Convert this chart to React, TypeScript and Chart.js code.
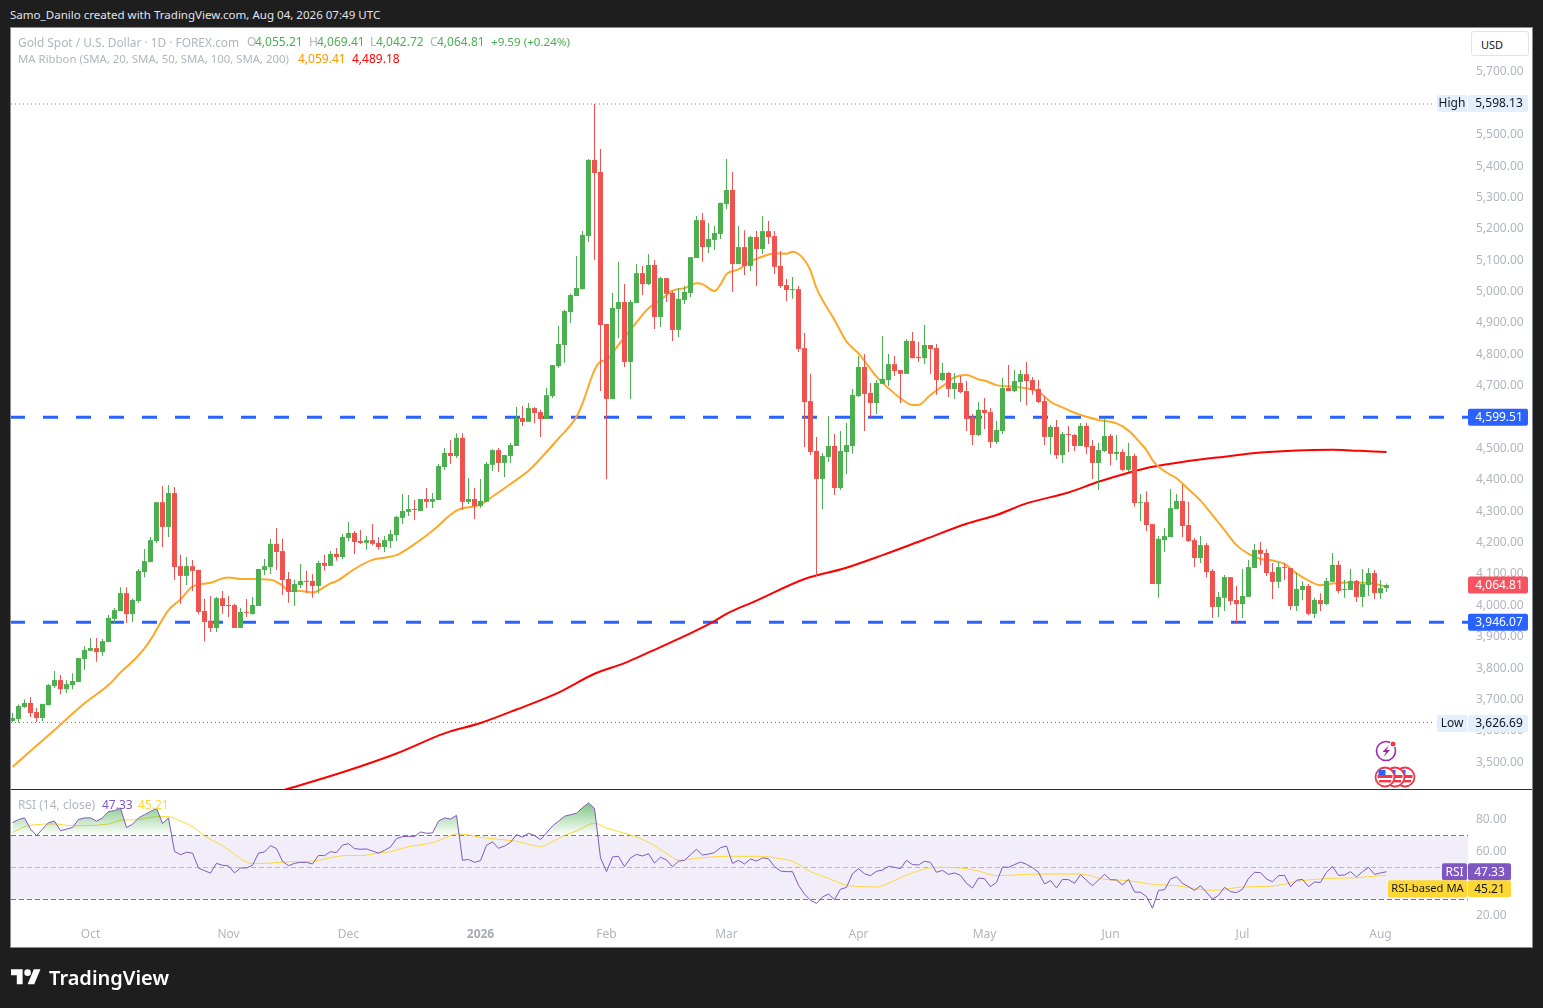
import React, { useEffect, useRef } from "react";
import { Chart, registerables } from "chart.js";

Chart.register(...registerables);

const FONT = '"Noto Sans", sans-serif';

const opens = [
3631,3638,3676,3689,3660,3641,3682,3743,3762,3733,
3746,3756,3829,3855,3864,3851,3883,3957,3982,4039,
3972,4014,4106,4138,4205,4329,4250,4358,4125,4094,
4125,4113,3982,3950,3928,4023,4001,4001,3928,3979,
3972,3998,4113,4122,4196,4173,4084,4043,4065,4078,
4078,4062,4135,4126,4164,4154,4215,4231,4205,4199,
4208,4199,4186,4205,4224,4279,4298,4307,4301,4339,
4330,4336,4441,4486,4476,4534,4330,4339,4317,4330,
4448,4495,4454,4476,4508,4597,4585,4629,4616,4594,
4667,4763,4830,4935,4986,5008,5177,5420,5381,4897,
4658,4945,4967,4776,4964,5059,5024,5085,4919,5043,
4996,4878,4973,4996,5107,5228,5142,5165,5184,5279,
5324,5088,5142,5082,5174,5136,5193,5177,5082,5021,
5005,5008,4820,4651,4492,4403,4473,4508,4374,4489,
4508,4667,4760,4677,4645,4706,4718,4769,4750,4738,
4843,4792,4788,4830,4820,4718,4741,4690,4709,4683,
4600,4543,4623,4616,4521,4556,4693,4683,4712,4737,
4718,4690,4651,4537,4569,4479,4546,4543,4508,4572,
4508,4454,4492,4540,4483,4489,4432,4476,4326,4329,
4259,4068,4208,4218,4307,4333,4256,4208,4151,4192,
4110,3995,4024,4090,4017,4004,4027,4119,4177,4167,
4106,4075,4122,4119,3998,4049,4062,3973,4017,4004,
4075,4129,4049,4049,4078,4027,4065,4103,4039,4055.21,
];
const closes = [
3641,3679,3689,3657,3641,3686,3746,3762,3733,3749,
3759,3832,3858,3864,3851,3886,3960,3985,4039,3972,
4017,4110,4141,4208,4329,4250,4358,4122,4094,4125,
4110,3979,3947,3928,4023,3998,3998,3928,3979,3976,
4001,4116,4125,4196,4170,4081,4043,4068,4078,4075,
4062,4135,4126,4164,4154,4218,4231,4202,4199,4208,
4196,4186,4208,4227,4282,4301,4307,4304,4339,4330,
4339,4444,4486,4476,4534,4330,4339,4317,4333,4451,
4495,4454,4479,4511,4597,4585,4629,4613,4594,4670,
4766,4833,4938,4989,5012,5181,5420,5378,4894,4658,
4948,4967,4776,4967,5059,5024,5085,4919,5043,4993,
4878,4977,4999,5110,5228,5142,5168,5187,5283,5324,
5088,5142,5082,5174,5136,5193,5174,5079,5018,5005,
5008,4817,4648,4489,4403,4476,4508,4374,4492,4511,
4671,4760,4674,4645,4709,4722,4769,4747,4738,4843,
4788,4788,4830,4817,4718,4741,4690,4709,4680,4594,
4543,4623,4613,4521,4559,4693,4683,4715,4737,4715,
4686,4648,4537,4569,4479,4546,4543,4508,4572,4505,
4454,4495,4540,4483,4489,4432,4476,4326,4329,4256,
4068,4212,4221,4310,4333,4253,4205,4151,4192,4106,
3995,4027,4090,4014,4004,4030,4122,4177,4164,4103,
4075,4122,4119,3998,4052,4062,3973,4017,4004,4078,
4129,4046,4052,4078,4027,4068,4103,4039,4055,4064.81,
];
const highs = [
3657,3684,3701,3708,3673,3686,3749,3791,3778,3762,
3784,3832,3870,3896,3896,3893,3969,3992,4058,4058,
4023,4116,4180,4218,4329,4380,4384,4377,4161,4154,
4145,4113,4020,4030,4027,4046,4030,4004,3992,4020,
4027,4116,4148,4212,4247,4212,4106,4081,4132,4110,
4100,4142,4161,4173,4183,4228,4266,4237,4240,4221,
4259,4218,4221,4240,4285,4355,4352,4336,4339,4374,
4358,4451,4502,4527,4549,4549,4406,4374,4403,4457,
4498,4502,4479,4518,4632,4636,4645,4632,4623,4693,
4766,4891,4942,4993,5114,5193,5423,5598.13,5455,4897,
4996,5095,5024,4973,5088,5082,5120,5101,5047,5043,
5002,5012,5018,5110,5241,5251,5219,5209,5283,5423,
5381,5209,5196,5177,5193,5241,5225,5193,5130,5040,
5047,5018,4868,4738,4537,4486,4604,4546,4556,4581,
4690,4795,4801,4709,4718,4859,4801,4795,4750,4849,
4871,4840,4894,4830,4833,4773,4744,4741,4731,4715,
4610,4648,4661,4629,4588,4725,4766,4750,4750,4776,
4728,4718,4667,4575,4591,4553,4572,4546,4581,4581,
4527,4518,4597,4546,4543,4498,4518,4483,4355,4364,
4259,4221,4247,4371,4355,4384,4330,4215,4221,4199,
4116,4043,4097,4090,4062,4116,4145,4196,4202,4180,
4135,4138,4135,4119,4103,4078,4068,4024,4039,4087,
4167,4142,4081,4116,4081,4116,4119,4113,4081,4069.41,
];
const lows = [
3629,3626.69,3673,3644,3628,3631,3682,3737,3717,3721,
3733,3756,3794,3855,3820,3839,3883,3941,3982,3944,
3947,4008,4090,4138,4199,4186,4218,4081,4004,4065,
4046,3972,3886,3915,3915,3973,3963,3928,3928,3963,
3972,3998,4097,4100,4113,4033,4008,3998,4055,4040,
4024,4039,4110,4126,4142,4148,4205,4164,4196,4177,
4192,4177,4170,4183,4205,4259,4285,4272,4301,4310,
4310,4336,4432,4451,4470,4304,4323,4275,4310,4330,
4428,4425,4409,4454,4508,4572,4585,4581,4537,4594,
4661,4757,4773,4900,4986,5008,5158,5101,4683,4403,
4658,4852,4760,4658,4964,4989,5021,4881,4887,4967,
4843,4855,4961,4983,5107,5095,5123,5133,5168,5263,
4999,5088,5053,5066,5018,5120,5152,5056,5012,4970,
4977,4808,4505,4479,4094,4307,4457,4352,4368,4419,
4483,4664,4556,4600,4610,4706,4699,4731,4645,4738,
4788,4776,4769,4738,4671,4715,4664,4658,4677,4556,
4511,4540,4562,4502,4514,4546,4683,4680,4648,4639,
4671,4645,4511,4482,4467,4454,4489,4492,4508,4482,
4403,4368,4489,4447,4463,4428,4425,4314,4269,4237,
4068,4024,4170,4218,4307,4218,4202,4122,4135,4090,
3960,3963,3982,4001,3941,3960,4027,4119,4129,4094,
4020,4055,4081,3985,3982,4017,3969,3960,3982,4001,
4075,4039,4024,4049,4011,3995,4030,4020,4020,4042.72,
];

const ma20Bars = [0,7,12,16,18,20,22,23,26,28,30,33,35,36,38,43,45,46,48,50,53,54,57,60,62,64,67,70,74,78,80,83,86,88,91,94,95,97,98,99,101,103,106,108,110,112,114,115,117,118,119,121,123,125,127,129,130,131,132,133,134,137,139,141,144,146,148,150,151,153,155,157,159,161,162,164,167,169,171,173,175,177,179,181,184,186,188,189,190,191,193,194,196,198,200,202,204,206,208,210,212,214,216,218,220,223,226,229];
const ma20Values = [3485,3603,3688,3746,3786,3821,3863,3890,3985,4019,4060,4072,4086,4089,4084,4082,4063,4047,4046,4041,4070,4077,4116,4145,4152,4160,4195,4238,4302,4321,4347,4387,4429,4468,4532,4601,4644,4750,4777,4782,4830,4878,4947,4973,5003,5011,5027,5024,5002,5023,5056,5071,5096,5112,5122,5121,5127,5120,5101,5067,5011,4910,4841,4803,4729,4692,4660,4639,4639,4671,4699,4727,4734,4720,4717,4702,4697,4692,4681,4649,4631,4614,4601,4591,4580,4557,4517,4495,4463,4442,4416,4405,4370,4334,4288,4240,4192,4164,4148,4143,4132,4102,4079,4064,4070,4073,4072,4059.41];

const ma200Bars = [45,55,64,72,78,84,91,97,102,106,111,117,119,124,132,139,145,152,159,164,169,176,181,186,190,196,202,208,214,220,223,226,229];
const ma200Values = [3410,3468,3528,3592,3625,3668,3722,3782,3816,3850,3893,3950,3973,4015,4084,4120,4160,4210,4260,4288,4325,4360,4394,4423,4442,4460,4474,4487,4494,4496,4494,4491,4489.18];

const rsiValues = [
78,80,81,74,70,74,78,79,73,74,
75,80,81,81,79,81,85,85.5,87,75,
77,81,83,85,87,77.5,81,60,58,59.5,
59,49.7,48,46.5,52.6,51.4,51,46.6,49.7,49.7,
51.4,59,59.7,63.6,61.8,53.9,51.1,52.6,53.2,53.2,
52.2,57.6,57.4,59.9,59.3,64,64.9,61.8,61.4,61.6,
60.3,59,60.7,62.8,68,69.3,69.5,69.3,72.2,71.4,
71.6,79,81,80.3,82.6,54.5,55,53.2,54.3,63.9,
66,62,63.4,65.7,70.5,69,71.4,70,67.4,71.6,
76,79,82,83,83.9,87.4,90.3,87,56,47.4,
56.6,57,50.5,56,58.2,57.2,58.6,52.8,56.4,54.7,
50.5,53.9,54.5,58,61.4,57.8,58.4,59.3,62.4,63.4,
52.6,54.5,52.2,55.3,54,56,55.5,50.5,47.8,47.4,
47.4,38.9,33.4,29.5,27.6,31.6,33.4,29.9,36.4,37.6,
46.1,49.3,46.1,44.9,47.6,48.4,50.7,50.1,49.3,54.5,
51.8,51.6,53.9,53.2,47,48.2,45.7,46.6,45.1,40.1,
37.2,43.4,43,38,40.7,50.3,50.1,51.8,53.4,52,
49.9,47,39.7,41.8,37.2,42.6,42.4,40.1,45.5,42,
38.6,42.2,45.7,42.4,42.2,39.1,42.6,34.7,34.5,31.8,
24.5,35.7,36.1,42.8,44.3,40.1,38,35.7,38.6,34.5,
30.3,32.6,37.6,34.9,34.3,36.4,43.2,47,46.8,42.8,
41.1,44.9,45.1,38,42,42.6,38,40.9,40.7,47,
50.7,45.1,45.3,47.4,44.1,47.4,50.1,45.7,46.6,47.33,
];

const rsiMaBars = [0,2,3,7,10,16,18,21,24,26,28,30,32,35,37,39,40,43,46,50,54,56,58,61,63,66,70,72,74,76,78,81,84,88,90,92,94,97,99,103,106,109,111,114,119,125,127,130,133,136,139,141,144,145,148,152,154,158,161,164,167,171,178,182,186,190,194,200,205,210,215,220,224,229];
const rsiMaValues = [71.8,75.5,76.4,77.2,76.1,77.2,79.5,79.9,81.8,81.8,79,75.5,69.7,63.6,58.2,53.4,52.4,52.8,53.6,54,56.8,57.6,57.4,59,59.9,63,65.5,68.2,71.1,70.3,68.9,67.6,66.4,63.2,66.1,70.1,72.8,77.6,74.7,70.3,65.7,58.9,54.5,55.7,57,57,56.1,53.9,47.4,43.2,38.9,38.2,37.8,38.6,43.6,49,50.1,49.7,47.8,44.9,45.3,45.9,45.9,42.6,41.8,39.5,38.6,35.7,37.8,38.4,41.8,43.2,43.6,45.21];

const priceTicks = [3500,3600,3700,3800,3900,4000,4100,4200,4300,4400,4500,4600,4700,4800,4900,5000,5100,5200,5300,5400,5500,5600,5700];
const rsiTicks = [20, 40, 60, 80];
const monthTicks = [13, 36, 56, 78, 99, 119, 141, 162, 183, 205, 228];
const monthLabels = ["Oct", "Nov", "Dec", "2026", "Feb", "Mar", "Apr", "May", "Jun", "Jul", "Aug"];

const supportLevels = [4599.51, 3946.07];
const extremeHigh = 5598.13;
const extremeLow = 3626.69;
const lastClose = 4064.81;
const lastRsi = 47.33;
const lastRsiMa = 45.21;
const rsiBand = [70, 30];
const rsiMid = 50;

const UP = "#4caf50";
const DOWN = "#ef5350";
const candleColors = closes.map((c, i) => (c >= opens[i] ? UP : DOWN));
const fmt = (v: number) => v.toLocaleString("en-US", { minimumFractionDigits: 2, maximumFractionDigits: 2 });

const X_MIN = -0.25;
const X_MAX = 242.583;

function tag(ctx: any, x: number, cy: number, w: number, h: number, bg: string, fg: string, text: string, size = 12, dx = 0) {
  ctx.fillStyle = bg;
  ctx.beginPath();
  ctx.roundRect(x, cy - h / 2, w, h, 2);
  ctx.fill();
  ctx.fillStyle = fg;
  ctx.font = `${size}px ${FONT}`;
  ctx.textAlign = "center";
  ctx.textBaseline = "middle";
  ctx.fillText(text, x + w / 2 + dx, cy + 0.5);
}

const paneDecor = {
  id: "paneDecor",
  beforeDatasetsDraw(chart: any) {
    const { ctx, chartArea } = chart;
    const s = chart.scales.rsi;
    const l = chartArea.left;
    const r = chartArea.right;
    ctx.save();
    ctx.fillStyle = "rgba(126,87,194,0.1)";
    ctx.fillRect(l, s.getPixelForValue(rsiBand[0]), r - l, s.getPixelForValue(rsiBand[1]) - s.getPixelForValue(rsiBand[0]));
    ctx.lineWidth = 1;
    ctx.setLineDash([5, 3]);
    rsiBand.forEach((v) => {
      const y = Math.floor(s.getPixelForValue(v)) + 0.5;
      ctx.strokeStyle = "#787b86";
      ctx.beginPath();
      ctx.moveTo(l, y);
      ctx.lineTo(r, y);
      ctx.stroke();
    });
    const ym = Math.floor(s.getPixelForValue(rsiMid)) + 0.5;
    ctx.strokeStyle = "#b8bac2";
    ctx.beginPath();
    ctx.moveTo(l, ym);
    ctx.lineTo(r, ym);
    ctx.stroke();
    ctx.restore();
  },
  afterDraw(chart: any) {
    const { ctx, chartArea } = chart;
    const y = chart.scales.y;
    const s = chart.scales.rsi;
    const r = chartArea.right;
    ctx.save();
    const light = "#e3effd";
    const hy = y.getPixelForValue(extremeHigh) - 0.5;
    const ly = y.getPixelForValue(extremeLow) + 1;
    tag(ctx, r - 31, hy, 30, 17, light, "#131722", "High");
    tag(ctx, r, hy, 60, 17, light, "#131722", fmt(extremeHigh), 12, 1);
    tag(ctx, r - 31, ly, 30, 17, light, "#131722", "Low");
    tag(ctx, r, ly, 60, 17, light, "#131722", fmt(extremeLow), 12, 1);
    supportLevels.forEach((v) => tag(ctx, r, y.getPixelForValue(v), 60, 17, "#2962ff", "#ffffff", fmt(v), 12, 1));
    tag(ctx, r, y.getPixelForValue(lastClose), 60, 17, "#f7525f", "#ffffff", fmt(lastClose), 12, 1);
    const cy = s.getPixelForValue(lastRsi);
    tag(ctx, r - 26, cy, 25, 17, "#7e57c2", "#ffffff", "RSI");
    tag(ctx, r, cy, 43, 17, "#7e57c2", "#ffffff", fmt(lastRsi));
    tag(ctx, r - 80, cy + 17, 79, 17, "#fdd835", "#131722", "RSI-based MA", 11.2);
    tag(ctx, r, cy + 17, 43, 17, "#fdd835", "#131722", fmt(lastRsiMa));
    ctx.restore();
  },
};

function ChartCanvas() {
  const ref = useRef<HTMLCanvasElement>(null);
  useEffect(() => {
    const canvas = ref.current!;
    const ctx = canvas.getContext("2d")!;
    const grad = ctx.createLinearGradient(0, 801, 0, 835.5);
    grad.addColorStop(0, "rgba(76,175,80,0.75)");
    grad.addColorStop(1, "rgba(76,175,80,0)");

    const flat = (v: number, end = X_MAX) => [{ x: X_MIN, y: v }, { x: end, y: v }];
    const base = { type: "line", pointRadius: 0, pointHoverRadius: 0, borderJoinStyle: "round" };
    const chart = new Chart(canvas, {
      type: "line",
      data: {
        datasets: [
          ...supportLevels.map((v) => ({
            ...base, data: flat(v), yAxisID: "y", borderColor: "#2962ff", borderWidth: 3,
            borderDash: [15, 18], borderDashOffset: 1, borderCapStyle: "butt", order: 8,
          })),
          { ...base, data: flat(extremeHigh, 237.1), yAxisID: "y", borderColor: "#787b86", borderWidth: 1, borderDash: [1, 3], order: 8 },
          { ...base, data: flat(extremeLow, 237.1), yAxisID: "y", borderColor: "#787b86", borderWidth: 1, borderDash: [1, 3], order: 8 },
          {
            ...base, data: ma200Bars.map((x, i) => ({ x, y: ma200Values[i] })), yAxisID: "y",
            borderColor: "#ff0000", borderWidth: 2, cubicInterpolationMode: "monotone", order: 6,
          },
          {
            ...base, data: ma20Bars.map((x, i) => ({ x, y: ma20Values[i] })), yAxisID: "y",
            borderColor: "#ffa726", borderWidth: 2, cubicInterpolationMode: "monotone", order: 5,
          },
          {
            type: "bar", data: highs.map((h, i) => ({ x: i, y: [lows[i], h] })), yAxisID: "y",
            backgroundColor: candleColors, barThickness: 1, grouped: false, borderWidth: 0, inflateAmount: 0, order: 3,
          },
          {
            type: "bar", data: opens.map((o, i) => ({ x: i, y: [o, closes[i]] })), yAxisID: "y",
            backgroundColor: candleColors, barThickness: 5, grouped: false, borderWidth: 0, inflateAmount: 0, order: 2,
          },
          {
            ...base, data: rsiMaBars.map((x, i) => ({ x, y: rsiMaValues[i] })), yAxisID: "rsi",
            borderColor: "#fdd835", borderWidth: 1, cubicInterpolationMode: "monotone", order: 5,
          },
          {
            ...base, data: rsiValues.map((y, x) => ({ x, y })), yAxisID: "rsi",
            borderColor: "#7e57c2", borderWidth: 1,
            fill: { target: { value: rsiBand[0] }, above: grad, below: "rgba(0,0,0,0)" }, order: 4,
          },
        ],
      } as any,
      options: {
        animation: false,
        responsive: false,
        devicePixelRatio: 1,
        events: [],
        layout: { padding: { left: 11, right: 11, top: 28, bottom: 61 } },
        plugins: { legend: { display: false }, tooltip: { enabled: false }, title: { display: false } },
        scales: {
          x: {
            type: "linear", min: X_MIN, max: X_MAX, offset: false,
            grid: { display: false, drawTicks: false }, border: { display: false },
            afterBuildTicks: (a: any) => { a.ticks = monthTicks.map((value) => ({ value })); },
            afterFit: (a: any) => { a.height = 26; },
            ticks: {
              autoSkip: false, maxRotation: 0, padding: 6, color: (c: any) => (c.tick && c.tick.value === 78 ? "#a8abb5" : "#b2b5be"),
              font: (c: any) => ({ family: FONT, size: 12, weight: c.tick && c.tick.value === 78 ? "bold" : "normal" }),
              callback: (v: any) => monthLabels[monthTicks.indexOf(v)],
            },
          },
          y: {
            type: "linear", position: "right", stack: "panes", stackWeight: 761, min: 3414.7, max: 5840.4, offset: false,
            grid: { display: false, drawTicks: false }, border: { display: false },
            afterBuildTicks: (a: any) => { a.ticks = priceTicks.map((value) => ({ value })); },
            afterFit: (a: any) => { a.width = 64; },
            ticks: { autoSkip: false, padding: 8, crossAlign: "near", color: "#b2b5be", font: { family: FONT, size: 12 }, callback: (v: any) => fmt(v) },
          },
          rsi: {
            type: "linear", position: "right", stack: "panes", stackWeight: 132, min: 16.56, max: 99.06, offset: false,
            grid: { display: false, drawTicks: false }, border: { display: false },
            afterBuildTicks: (a: any) => { a.ticks = rsiTicks.map((value) => ({ value })); },
            afterFit: (a: any) => { a.width = 64; },
            ticks: { autoSkip: false, padding: 8, crossAlign: "near", color: "#b2b5be", font: { family: FONT, size: 12 }, callback: (v: any) => fmt(v) },
          },
        },
      } as any,
      plugins: [paneDecor],
    });
    return () => chart.destroy();
  }, []);
  return <canvas ref={ref} width={1543} height={1008} style={{ position: "absolute", left: 0, top: 0, display: "block" }} />;
}

const T = ({ x, y, c, children, size = 12, weight = 400 }: any) => (
  <span style={{ position: "absolute", left: x, top: y, color: c, fontSize: size, fontWeight: weight, lineHeight: "16px", whiteSpace: "pre", fontFamily: FONT }}>{children}</span>
);

const GREY = "#b2b5be";

function Flag({ cx }: { cx: number }) {
  return (
    <g>
      <circle cx={cx} cy={777} r={9.5} fill="#fff" stroke="#f23645" strokeWidth={1.8} />
      <rect x={cx - 7.5} y={775} width={15} height={3} fill="#f23645" />
      <rect x={cx - 6} y={780} width={12} height={2.4} fill="#f23645" />
      <rect x={cx - 6.5} y={770} width={7} height={5} fill="#2962ff" />
    </g>
  );
}

export default function App() {
  useEffect(() => {
    document.body.style.margin = "0";
    document.body.style.background = "#1e1e1e";
  }, []);
  return (
    <div style={{ position: "absolute", left: 0, top: 0, width: 1543, height: 1008, overflow: "hidden", background: "#1e1e1e", fontFamily: FONT }}>
      <T x={10} y={7} c="#e0e3eb" size={11.56}>Samo_Danilo created with TradingView.com, Aug 04, 2026 07:49 UTC</T>
      <div style={{ position: "absolute", left: 10, top: 27, width: 1521, height: 919, background: "#fff", border: "1px solid #8a8c93" }} />
      <div style={{ position: "absolute", left: 11, top: 789, width: 1521, height: 1, background: "#2a2e39" }} />
      <ChartCanvas />
      <T x={18} y={34} c={GREY} size={11.9}>Gold Spot / U.S. Dollar · 1D · FOREX.com</T>
      <T x={247} y={34} c={GREY}>O</T><T x={255} y={34} c={UP}>4,055.21</T>
      <T x={309} y={34} c={GREY}>H</T><T x={317} y={34} c={UP}>4,069.41</T>
      <T x={370} y={34} c={GREY}>L</T><T x={376} y={34} c={UP}>4,042.72</T>
      <T x={430} y={34} c={GREY}>C</T><T x={437} y={34} c={UP}>4,064.81</T>
      <T x={491} y={34} c={UP} size={11.6}>+9.59 (+0.24%)</T>
      <T x={18} y={51} c={GREY} size={11.4}>MA Ribbon (SMA, 20, SMA, 50, SMA, 100, SMA, 200)</T>
      <T x={298} y={51} c="#ff9800">4,059.41</T>
      <T x={352} y={51} c="#ff0000">4,489.18</T>
      <T x={18} y={797} c={GREY}>RSI (14, close)</T>
      <T x={102} y={797} c="#7e57c2">47.33</T>
      <T x={138} y={797} c="#fdd835">45.21</T>
      <div style={{ position: "absolute", left: 1471, top: 31, width: 58, height: 25, border: "1px solid #e0e3eb", borderRadius: 3, background: "#fff", boxSizing: "border-box" }} />
      <T x={1481} y={37} c="#131722" size={11}>USD</T>
      <svg width={1543} height={1008} style={{ position: "absolute", left: 0, top: 0, pointerEvents: "none" }}>
        <circle cx={1386} cy={751} r={9.5} fill="#fff" stroke="#9c27b0" strokeWidth={1.6} />
        <path d="M1389 745 L1382.5 752 L1386 752 L1383.5 757 L1390 750 L1386.5 750 Z" fill="#9c27b0" />
        <circle cx={1393} cy={744} r={3} fill="#f23645" stroke="#fff" strokeWidth={1} />
        <Flag cx={1405} />
        <Flag cx={1395} />
        <Flag cx={1385} />
        <g transform="translate(11,966) scale(0.83)" fill="#ffffff">
          <path d="M14 22H7V11H0V4h14v18zM28 22h-8l7.5-18h8L28 22z" />
          <circle cx={20} cy={8} r={4} />
        </g>
      </svg>
      <T x={49} y={970} c="#ffffff" size={20} weight={600}>TradingView</T>
    </div>
  );
}
